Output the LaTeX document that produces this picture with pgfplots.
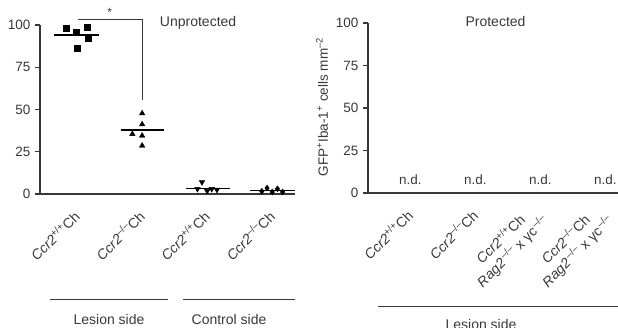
\documentclass[border=0pt]{standalone}
\usepackage{pgfplots}
\pgfplotsset{compat=1.18}
\usepackage{fontspec}
\setmainfont{Liberation Sans}
\definecolor{ink}{gray}{0.22}
\newcommand{\mi}{--}
\begin{document}
\begin{tikzpicture}
\useasboundingbox (0pt,0pt) rectangle (618pt,328pt);
\pgfplotsset{
  common/.style={
    scale only axis,
    ymin=0, ymax=100,
    ytick={0,25,50,75,100},
    axis lines*=left,
    axis line style={ink, line width=1.2pt, -},
    every tick/.style={ink, line width=1.1pt},
    ytick style={ink},
    tick align=outside,
    major tick length=5pt,
    xtick style={draw=none},
    xtick={0,1,2,3},
    /pgf/number format/assume math mode=true,
    yticklabel style={font=\fontsize{13.5}{15}\selectfont, text=ink, xshift=-1pt},
    xticklabel style={font=\fontsize{14}{17}\selectfont, text=ink, yshift=-12pt, xshift=2pt, rotate=45, anchor=east, align=center},
    clip=false,
  }
}
% ---------------- Left panel ----------------
\begin{axis}[common,
  at={(40pt,134pt)}, anchor=south west,
  width=255pt, height=169pt,
  xmin=-0.57, xmax=3.35,
  xticklabels={{\textit{Ccr2}\textsuperscript{+/+}Ch},{\textit{Ccr2}\textsuperscript{\mi/\mi}Ch},{\textit{Ccr2}\textsuperscript{+/+}Ch},{\textit{Ccr2}\textsuperscript{\mi/\mi}Ch}},
]
\addplot[only marks, mark=square*, mark size=3pt, black] coordinates {
  (-0.16,98.0) (-0.015,95.7) (0.15,98.6) (0.165,92.1) (0.0,86.2)};
\addplot[black, line width=1.4pt] coordinates {(-0.36,94.1) (0.34,94.1)};
\addplot[only marks, mark=triangle*, mark size=3.2pt, black] coordinates {
  (1.0,47.7) (1.0,41.2) (0.85,35.5) (1.0,34.5) (1.0,28.6)};
\addplot[black, line width=1.4pt] coordinates {(0.67,37.9) (1.33,37.9)};
\addplot[only marks, mark=triangle*, mark options={rotate=180}, mark size=3.2pt, black] coordinates {
  (1.92,7.0) (1.85,3.0) (2.0,1.8) (2.07,3.0) (2.15,2.5)};
\addplot[black, line width=1.4pt] coordinates {(1.68,3.3) (2.35,3.3)};
\addplot[only marks, mark=diamond*, mark size=3pt, black] coordinates {
  (2.84,1.6) (2.92,3.5) (3.0,1.2) (3.08,3.1) (3.16,1.2)};
\addplot[black, line width=1.4pt] coordinates {(2.66,2.0) (3.35,2.0)};
% significance bracket
\addplot[ink, line width=1.1pt] coordinates {(0.02,103.5) (1.0,103.5) (1.0,55.7)};
\node[font=\fontsize{12}{12}\selectfont, text=ink] at (axis cs:0.5,107.5) {*};
\node[font=\fontsize{14}{16}\selectfont, text=ink, anchor=west] at (axis cs:1.22,101) {Unprotected};
\end{axis}
% ---------------- Right panel ----------------
\begin{axis}[common,
  at={(368pt,135pt)}, anchor=south west,
  width=270pt, height=170pt,
  xmin=-0.65, xmax=3.5,
  xticklabels={{\textit{Ccr2}\textsuperscript{+/+}Ch},{\textit{Ccr2}\textsuperscript{\mi/\mi}Ch},{\textit{Ccr2}\textsuperscript{+/+}Ch\\\textit{Rag2}\textsuperscript{\,\mi/\mi} x γc\textsuperscript{\,\mi/\mi}},{\textit{Ccr2}\textsuperscript{\mi/\mi}Ch\\\textit{Rag2}\textsuperscript{\,\mi/\mi} x γc\textsuperscript{\,\mi/\mi}}},
]
\addplot[draw=none, forget plot] coordinates {(0,0)};
\node[font=\fontsize{14}{16}\selectfont, text=ink] at (axis cs:1.31,101) {Protected};
\node[font=\fontsize{13.5}{15}\selectfont, text=ink] at (axis cs:0,7.6) {n.d.};
\node[font=\fontsize{13.5}{15}\selectfont, text=ink] at (axis cs:1,7.6) {n.d.};
\node[font=\fontsize{13.5}{15}\selectfont, text=ink] at (axis cs:2,7.6) {n.d.};
\node[font=\fontsize{13.5}{15}\selectfont, text=ink] at (axis cs:3,7.6) {n.d.};
\end{axis}
% y label
\node[rotate=90, font=\fontsize{13.5}{15}\selectfont, text=ink] at (322pt,221pt)
  {GFP\textsuperscript{+}Iba-1\textsuperscript{+} cells mm\textsuperscript{\mi2}};
% group annotations
\draw[ink, line width=1pt] (50pt,28pt) -- (168pt,28pt);
\draw[ink, line width=1pt] (183pt,28pt) -- (295pt,28pt);
\node[font=\fontsize{14}{16}\selectfont, text=ink] at (109pt,8pt) {Lesion side};
\node[font=\fontsize{14}{16}\selectfont, text=ink] at (229pt,8pt) {Control side};
\draw[ink, line width=1pt] (378pt,21pt) -- (640pt,21pt);
\node[font=\fontsize{14}{16}\selectfont, text=ink] at (481pt,3pt) {Lesion side};
\end{tikzpicture}
\end{document}
